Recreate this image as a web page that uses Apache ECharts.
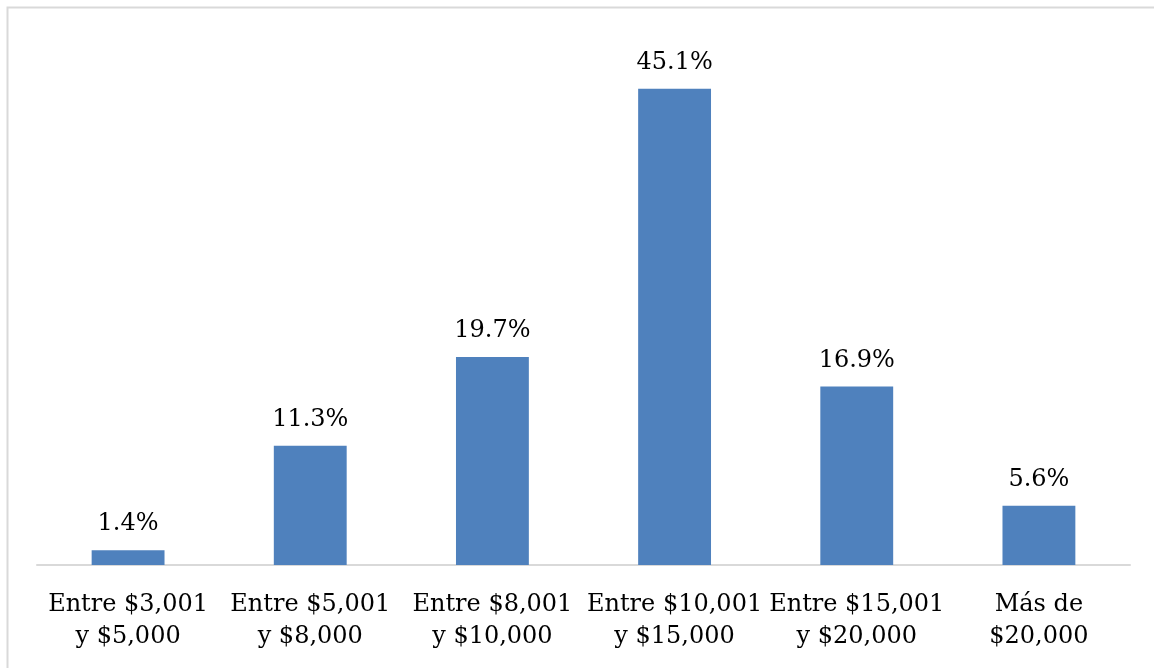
<!DOCTYPE html>
<html>
<head>
<meta charset="utf-8">
<script src="https://cdn.jsdelivr.net/npm/echarts@6/dist/echarts.min.js"></script>
<style>
    html, body { margin: 0; padding: 0; background: #fff; }
    #chart { width: 1154px; height: 668px; }
</style>
</head>
<body>
<div id="chart"></div>
<script>
const categories = [
    'Entre $3,001\ny $5,000',
    'Entre $5,001\ny $8,000',
    'Entre $8,001\ny $10,000',
    'Entre $10,001\ny $15,000',
    'Entre $15,001\ny $20,000',
    'Más de\n$20,000'
];
const shares = [1.4, 11.3, 19.7, 45.1, 16.9, 5.6];

const serif = '"DejaVu Serif", "Liberation Serif", serif';

let chartDom = document.getElementById('chart');
let myChart = echarts.init(chartDom);
let option;

option = {
    animation: false,
    grid: {
        top: 37,
        left: 37,
        right: 24,
        bottom: 103,
        containLabel: false,
        outerBoundsMode: 'none'
    },
    graphic: [
        {
            type: 'rect',
            shape: { x: 7.5, y: 7.5, width: 1200, height: 700 },
            style: { fill: 'none', stroke: '#d9d9d9', lineWidth: 2 },
            silent: true
        }
    ],
    xAxis: {
        type: 'category',
        data: categories,
        axisLine: { lineStyle: { color: '#d9d9d9', width: 2 } },
        axisTick: { show: false },
        axisLabel: {
            interval: 0,
            margin: 24,
            color: '#000',
            fontFamily: serif,
            fontSize: 24,
            lineHeight: 32
        }
    },
    yAxis: {
        type: 'value',
        min: 0,
        max: 50,
        show: false,
        splitLine: { show: false }
    },
    series: [
        {
            type: 'bar',
            data: shares,
            barWidth: '40%',
            itemStyle: { color: '#4F81BD' },
            label: {
                show: true,
                position: 'top',
                distance: 14,
                color: '#000',
                fontFamily: serif,
                fontSize: 24,
                formatter: p => p.value.toFixed(1) + '%'
            }
        }
    ]
};

option && myChart.setOption(option);
</script>
</body>
</html>
